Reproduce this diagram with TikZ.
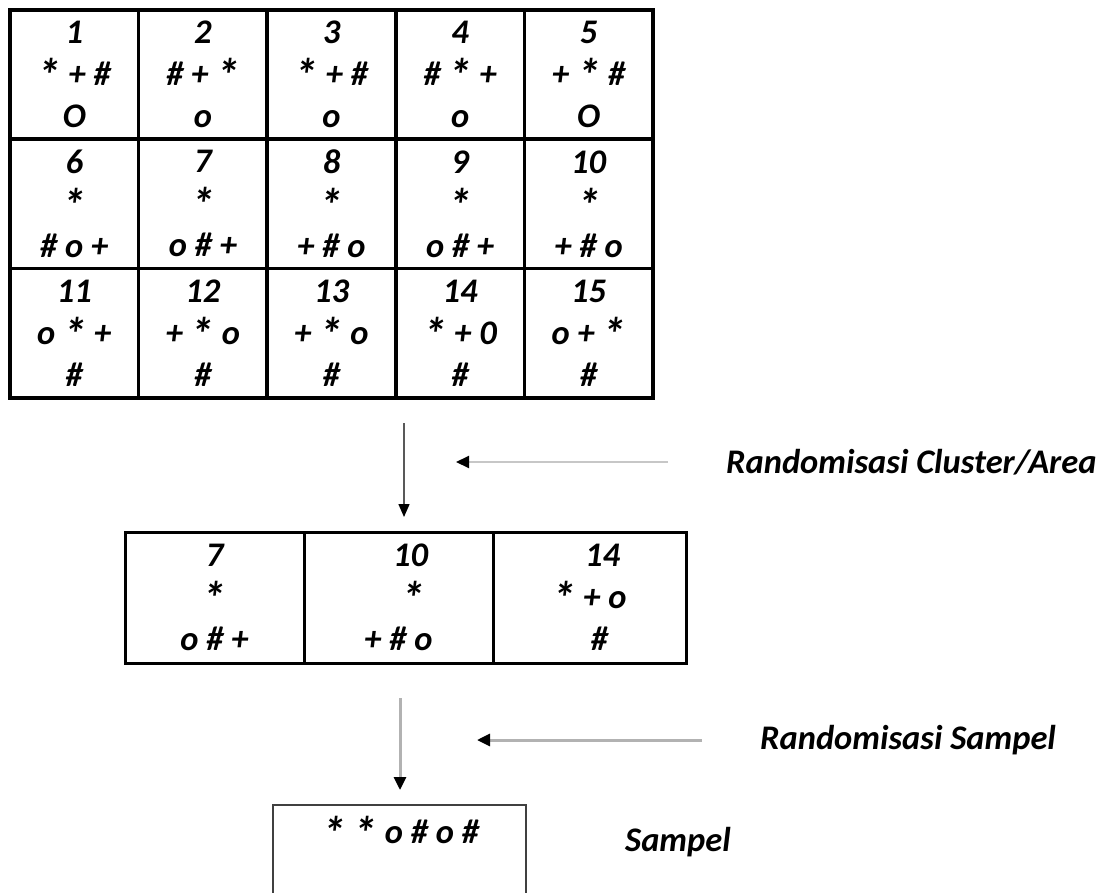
\documentclass[tikz,border=0pt]{standalone}
\usepackage{fontspec}
\usepackage{graphicx}
\setmainfont{Carlito}
\usetikzlibrary{arrows.meta}
\newcommand{\starsym}{\raisebox{-6pt}{\scalebox{1.35}{*}}}
\tikzset{
  cell/.style={draw, line width=3.5pt, minimum width=128.6pt, minimum height=129.3pt, align=center, inner sep=0pt,
    font=\bfseries\itshape\fontsize{34.5}{42}\selectfont},
  pick/.style={cell, line width=3pt, minimum height=131pt},
  lbl/.style={anchor=west, inner sep=0pt, font=\bfseries\itshape\fontsize{34.5}{42}\selectfont},
  darkarrow/.style={draw=black!65, line width=1.5pt, -{Triangle[length=13pt,width=11pt,black]}},
  greyarrow/.style={draw=black!30, line width=3pt, -{Triangle[length=13pt,width=12pt,black]}},
}
\begin{document}
\begin{tikzpicture}[x=1pt,y=-1pt]
	\useasboundingbox (0,0) rectangle (1105,893);
	% population of clusters
	\node (c1) at (74.3,74.6) [cell] {1\\\starsym{} + \#\\O};
	\node (c2) at (202.9,74.6) [cell] {2\\\# + \starsym\\o};
	\node (c3) at (331.5,74.6) [cell] {3\\\starsym{} + \#\\o};
	\node (c4) at (460.1,74.6) [cell] {4\\\# \starsym{} +\\o};
	\node (c5) at (588.7,74.6) [cell] {5\\+ \starsym{} \#\\O};
	\node (c6) at (74.3,203.9) [cell] {6\\\starsym\\\# o +};
	\node (c7) at (202.9,203.9) [cell] {7\\\starsym\\o \# +};
	\node (c8) at (331.5,203.9) [cell] {8\\\starsym\\+ \# o};
	\node (c9) at (460.1,203.9) [cell] {9\\\starsym\\o \# +};
	\node (c10) at (588.7,203.9) [cell] {10\\\starsym\\+ \# o};
	\node (c11) at (74.3,333.3) [cell] {11\\o \starsym{} +\\\#};
	\node (c12) at (202.9,333.3) [cell] {12\\+ \starsym{} o\\\#};
	\node (c13) at (331.5,333.3) [cell] {13\\+ \starsym{} o\\\#};
	\node (c14) at (460.1,333.3) [cell] {14\\\starsym{} + 0\\\#};
	\node (c15) at (588.7,333.3) [cell] {15\\o + \starsym\\\#};
	% chosen clusters
	\node (p7) at (214.5,597.5) [pick, minimum width=179pt] {7\\\starsym\\o \# +};
	\node (p10) at (398.5,597.5) [pick, minimum width=189pt] {\hspace*{24pt}10\\\hspace*{30pt}\starsym\\+ \# o};
	\node (p14) at (589.5,597.5) [pick, minimum width=193pt] {\hspace*{26pt}14\\\starsym{} + o\\\hspace*{20pt}\#};
	% sample
	\node (sbox) at (399.5,804) [anchor=north, draw=black!75, line width=1.5pt, minimum width=253pt, minimum height=130pt] {};
	\node (stext) at (401,833) [lbl, anchor=center] {\starsym{} \starsym{} o \# o \#};
	% labels
	\node (rcluster) at (726,462) [lbl] {Randomisasi Cluster/Area};
	\node (rsampel) at (760,740) [lbl] {Randomisasi Sampel};
	\node (sampel) at (625,842) [lbl] {Sampel};
	% arrows
	\coordinate (v1a) at (404,423);
	\coordinate (v1b) at (404,517);
	\coordinate (h1a) at (668,462);
	\coordinate (h1b) at (456,462);
	\coordinate (v2a) at (400,698);
	\coordinate (v2b) at (400,790);
	\coordinate (h2a) at (702,740);
	\coordinate (h2b) at (477,740);
	\draw[darkarrow] (v1a) -- (v1b);
	\draw[greyarrow, draw=black!22, line width=2pt] (h1a) -- (h1b);
	\draw[greyarrow] (v2a) -- (v2b);
	\draw[greyarrow] (h2a) -- (h2b);
\end{tikzpicture}
\end{document}
